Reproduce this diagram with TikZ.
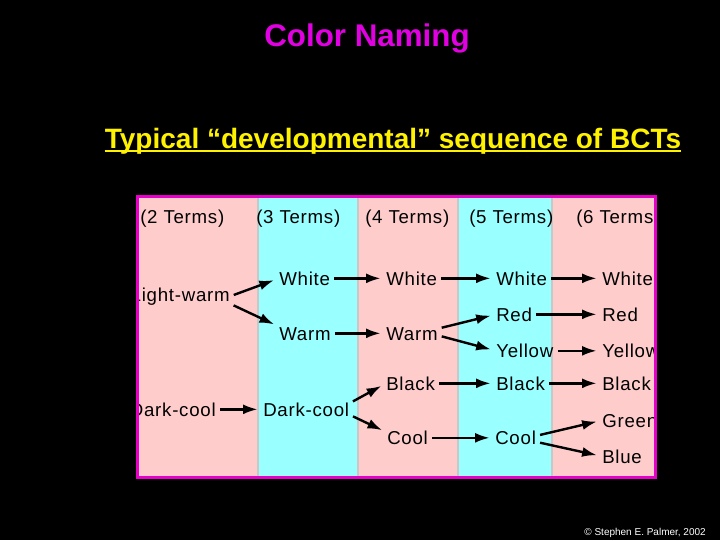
\documentclass[tikz,border=0pt]{standalone}
\usepackage{fontspec}
\setmainfont{Liberation Sans}
\newfontfamily\termfont[LetterSpace=4]{Liberation Sans}
\usetikzlibrary{calc,arrows.meta}
\definecolor{pinkbg}{RGB}{255,204,204}
\definecolor{cyanbg}{RGB}{153,255,255}
\definecolor{titlemag}{RGB}{225,0,225}
\definecolor{boxmag}{RGB}{230,0,200}
\definecolor{sepgray}{RGB}{200,200,200}
\tikzset{
  term/.style={anchor=base west, inner sep=0pt, font=\termfont\fontsize{14}{16}\selectfont, text height=10pt, text depth=0pt},
  termr/.style={term, anchor=base east},
  arr/.style={line width=1.8pt, -{Latex[length=11pt,width=7.5pt]}, shorten <=3pt, shorten >=4pt}
}
\begin{document}
\begin{tikzpicture}[x=0.75pt,y=-0.75pt]
  \fill [black] (0,0) rectangle (720,540);

  \node [anchor=base, inner sep=0pt, text=titlemag, font=\bfseries\fontsize{23.5}{26}\selectfont] (title) at (367,46) {Color Naming};
  \node [anchor=base, inner sep=0pt, text=yellow, font=\bfseries\fontsize{21}{25}\selectfont] (sub) at (393,148) {Typical “developmental” sequence of BCTs};
  \draw [yellow, line width=1.5pt] ([yshift=-2.5pt]sub.base west) -- ([yshift=-2.5pt]sub.base east);

  \fill [pinkbg] (137,196) rectangle (258,477);
  \fill [cyanbg] (258,196) rectangle (358,477);
  \fill [pinkbg] (358,196) rectangle (458,477);
  \fill [cyanbg] (458,196) rectangle (552,477);
  \fill [pinkbg] (552,196) rectangle (656,477);
  \draw [sepgray, line width=0.8pt] (258,196) -- (258,477);
  \draw [sepgray, line width=0.8pt] (358,196) -- (358,477);
  \draw [sepgray, line width=0.8pt] (458,196) -- (458,477);
  \draw [sepgray, line width=0.8pt] (552,196) -- (552,477);

  \begin{scope}
    \clip (137.5,196.5) rectangle (655.5,477.5);
    \node [term] (hd2) at (140,223) {(2 Terms)};
    \node [term] (hd3) at (256,223) {(3 Terms)};
    \node [term] (hd4) at (365,223) {(4 Terms)};
    \node [term] (hd5) at (469,223) {(5 Terms)};
    \node [term] (hd6) at (576,223) {(6 Terms)};

    \node [termr] (lw)  at (230,301) {Light-warm};
    \node [termr] (dc2) at (216,416) {Dark-cool};

    \node [term] (w3)  at (279,285) {White};
    \node [term] (wm3) at (279,340) {Warm};
    \node [term] (dc3) at (263,416) {Dark-cool};

    \node [term] (w4)  at (386,285) {White};
    \node [term] (wm4) at (386,340) {Warm};
    \node [term] (bk4) at (386,390) {Black};
    \node [term] (c4)  at (387,444.5) {Cool};

    \node [term] (w5)  at (496,285) {White};
    \node [term] (r5)  at (496,321) {Red};
    \node [term] (y5)  at (496,357.5) {Yellow};
    \node [term] (bk5) at (496,390) {Black};
    \node [term] (c5)  at (495,444.5) {Cool};

    \node [term] (w6)  at (602,285) {White};
    \node [term] (r6)  at (602,321) {Red};
    \node [term] (y6)  at (602,357.5) {Yellow};
    \node [term] (bk6) at (602,390) {Black};
    \node [term] (g6)  at (602,427) {Green};
    \node [term] (bl6) at (602,463) {Blue};

    \draw [arr] ([yshift=-1.5pt]lw.east) -- (w3.west);
    \draw [arr] ([yshift=-7pt]lw.east) -- ([yshift=5pt]wm3.west);
    \draw [arr] (dc2.east) -- (dc3.west);

    \draw [arr] (w3.east) -- (w4.west);
    \draw [arr] (wm3.east) -- (wm4.west);
    \draw [arr] ([yshift=4.5pt]dc3.east) -- (bk4.west);
    \draw [arr] ([yshift=-4pt]dc3.east) -- ([yshift=4pt]c4.west);

    \draw [arr] (w4.east) -- (w5.west);
    \draw [arr] ([yshift=3.5pt]wm4.east) -- (r5.west);
    \draw [arr] ([yshift=-1.5pt]wm4.east) -- (y5.west);
    \draw [arr] (bk4.east) -- (bk5.west);
    \draw [arr] (c4.east) -- (c5.west);

    \draw [arr] (w5.east) -- (w6.west);
    \draw [arr] (r5.east) -- (r6.west);
    \draw [arr] (y5.east) -- (y6.west);
    \draw [arr] (bk5.east) -- (bk6.west);
    \draw [arr] ([yshift=1.5pt]c5.east) -- (g6.west);
    \draw [arr] ([yshift=-3pt]c5.east) -- (bl6.west);
  \end{scope}

  \draw [boxmag, line width=2.25pt] (137.5,196.5) rectangle (655.5,477.5);

  \node [anchor=base east, inner sep=0pt, text=white, font=\fontsize{7.5}{9}\selectfont] (credit) at (706,535) {© Stephen E. Palmer, 2002};
\end{tikzpicture}
\end{document}
